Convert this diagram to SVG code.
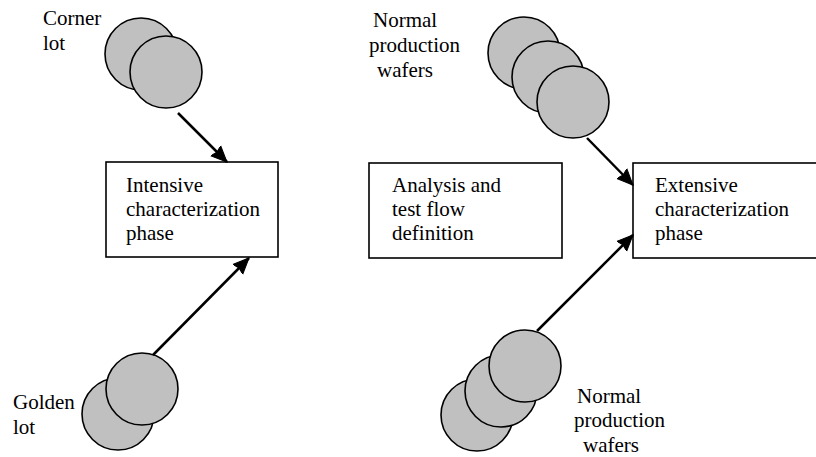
<svg xmlns="http://www.w3.org/2000/svg" width="816" height="457" viewBox="0 0 816 457">
  <style>
    .wafer { fill: #c0c0c0; stroke: #000; stroke-width: 1.6; }
    .box { fill: #fff; stroke: #000; stroke-width: 1.6; }
    text { font-family: 'Liberation Serif', Tinos, 'Times New Roman', Times, 'DejaVu Serif', serif; font-size: 21px; fill: #000; }
    .conn { stroke: #000; stroke-width: 2.5; fill: none; marker-end: url(#arrow); }
  </style>
  <defs>
    <marker id="arrow" markerUnits="userSpaceOnUse" markerWidth="18" markerHeight="18" viewBox="0 0 18 18" refX="16" refY="9" orient="auto">
      <path d="M0,2 L16,9 L0,16 L2,9 Z" fill="#000" stroke="#000" stroke-width="1" stroke-linejoin="miter"/>
    </marker>
  </defs>
  <rect width="816" height="457" fill="#fff"/>

  <g id="corner-lot">
    <circle class="wafer" cx="141" cy="54" r="36"/>
    <circle class="wafer" cx="166" cy="72" r="36"/>
    <text x="43" y="25">Corner</text>
    <text x="43" y="50">lot</text>
  </g>

  <g id="golden-lot">
    <circle class="wafer" cx="118" cy="414" r="36"/>
    <circle class="wafer" cx="142" cy="389" r="36"/>
    <text x="13" y="409">Golden</text>
    <text x="13" y="434">lot</text>
  </g>

  <g id="intensive">
    <rect class="box" x="106" y="162" width="172" height="95"/>
    <text x="126" y="192">Intensive</text>
    <text x="126" y="216">characterization</text>
    <text x="126" y="240">phase</text>
  </g>

  <g id="analysis">
    <rect class="box" x="369" y="163" width="193" height="95"/>
    <text x="392" y="192">Analysis and</text>
    <text x="392" y="216">test flow</text>
    <text x="392" y="240">definition</text>
  </g>

  <g id="extensive">
    <rect class="box" x="633" y="163" width="190" height="95"/>
    <text x="655" y="192">Extensive</text>
    <text x="655" y="216">characterization</text>
    <text x="655" y="240">phase</text>
  </g>

  <g id="normal-top">
    <circle class="wafer" cx="524" cy="53" r="36"/>
    <circle class="wafer" cx="548" cy="77" r="36"/>
    <circle class="wafer" cx="573" cy="102" r="36"/>
    <text x="373" y="27">Normal</text>
    <text x="369" y="52">production</text>
    <text x="377" y="77">wafers</text>
  </g>

  <g id="normal-bottom">
    <circle class="wafer" cx="477" cy="415" r="36"/>
    <circle class="wafer" cx="501" cy="391" r="36"/>
    <circle class="wafer" cx="525" cy="366" r="36"/>
    <text x="577" y="403">Normal</text>
    <text x="574" y="427">production</text>
    <text x="583" y="452">wafers</text>
  </g>

  <g id="connectors">
    <line class="conn" x1="178" y1="113" x2="227" y2="162"/>
    <line class="conn" x1="153" y1="355" x2="249" y2="258"/>
    <line class="conn" x1="587" y1="138" x2="633" y2="185"/>
    <line class="conn" x1="537" y1="331" x2="633" y2="235"/>
  </g>
</svg>
